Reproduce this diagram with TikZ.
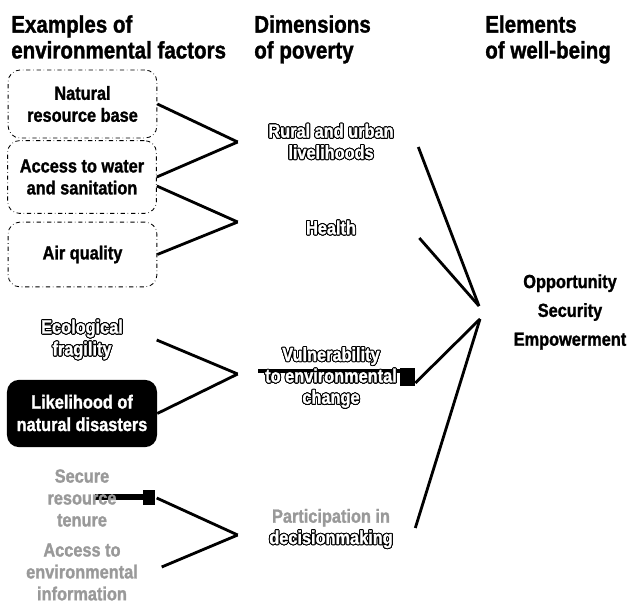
\documentclass[tikz,border=0pt]{standalone}
\usepackage{fontspec}
\setmainfont{Liberation Sans}[FakeStretch=0.86, BoldFeatures={FakeBold=1.3}]
\usepackage{contour}
\contourlength{0.7pt}
\newcommand{\olt}[1]{\contour{black}{#1}}

\begin{document}
\begin{tikzpicture}[x=0.025cm, y=-0.025cm,
    headnode/.style={anchor=north west, align=left, inner sep=0pt, font=\fontsize{17}{18.4}\selectfont\bfseries},
    factornode/.style={rounded corners=0.3cm, draw=black, dash dot, line width=0.6pt, minimum width=3.72cm, align=center, font=\fontsize{13.5}{15.6}\selectfont\bfseries},
    darknode/.style={rounded corners=0.3cm, fill=black, text=white, minimum width=3.75cm, minimum height=1.68cm, align=center, font=\fontsize{13.5}{16}\selectfont\bfseries},
    plainnode/.style={minimum width=3.72cm, inner sep=0pt, align=center, font=\fontsize{13.5}{15.6}\selectfont\bfseries},
    dimnode/.style={minimum width=4.65cm, inner sep=0pt, align=center, text=white, font=\fontsize{13.5}{15.2}\selectfont\bfseries},
    link/.style={line width=2pt}
    ]
    \useasboundingbox (0,0) rectangle (632,603);

    % column heads
    \node [headnode] (h1) at (11,15) {Examples of\\environmental factors};
    \node [headnode] (h2) at (254,15) {Dimensions\\of poverty};
    \node [headnode] (h3) at (485,15) {Elements\\of well-being};

    % environmental factors
    \node [factornode,minimum height=1.7cm] (a1) at (82.5,104) {Natural\\resource base};
    \node [factornode,minimum height=1.82cm] (a2) at (82,177) {Access to water\\and sanitation};
    \node [factornode,minimum height=1.62cm] (a3) at (82.5,254.5) {Air quality};
    \node [plainnode,text=white] (a4) at (82,340) {\olt{Ecological}\\\olt{fragility}};
    \node [darknode] (a5) at (82,413.5) {\olt{Likelihood of}\\\olt{natural disasters}};
    \fill (95,494) rectangle (143,500);
    \fill (143,490) rectangle (155,505);
    \node [plainnode,text=black!40] (a6) at (82,498) {Secure\\resource\\tenure};
    \node [plainnode,text=black!40] (a7) at (82,572) {Access to\\environmental\\information};

    % dimensions of poverty
    \node [dimnode] (b1) at (331,142) {\olt{Rural and urban}\\\olt{livelihoods}};
    \node [dimnode] (b2) at (331,228) {\olt{Health}};
    \fill (258,369) rectangle (400,373);
    \fill (400,368) rectangle (415,386);
    \node [dimnode] (b3) at (331,378) {\olt{Vulnerability}\\\olt{to environmental}\\\olt{change}};
    \node [dimnode] (b4) at (331,529) {\textcolor{black!40}{Participation in}\\\olt{decisionmaking}};

    % elements of well-being
    \node [align=center, font=\fontsize{13.5}{20.5}\selectfont\bfseries] (c1) at (570,312) {Opportunity\\Security\\Empowerment};
    \coordinate (c2) at (479,306);
    \coordinate (c3) at (480,319);

    \draw [link] (a1.east) edge (b1.west);
    \draw [link] (a2.east) edge (b1.west);
    \draw [link] ([shift={(0,9)}]a2.east) edge ([shift={(0,-6)}]b2.west);
    \draw [link] (a3.east) edge ([shift={(0,-6)}]b2.west);
    \draw [link] (a4.east) edge ([shift={(0,-4)}]b3.west);
    \draw [link] (a5.east) edge ([shift={(0,-4)}]b3.west);
    \draw [link] (a6.east) edge ([shift={(0,6)}]b4.west);
    \draw [link] ([shift={(5,-5)}]a7.east) edge ([shift={(0,6)}]b4.west);

    \draw [link] ([shift={(-6,5)}]b1.east) edge (c2);
    \draw [link] ([shift={(-5,10)}]b2.east) edge (c2);
    \draw [link] ([shift={(-9,5)}]b3.east) edge (c3);
    \draw [link] ([shift={(-9,-1)}]b4.east) edge (c3);
\end{tikzpicture}
\end{document}
